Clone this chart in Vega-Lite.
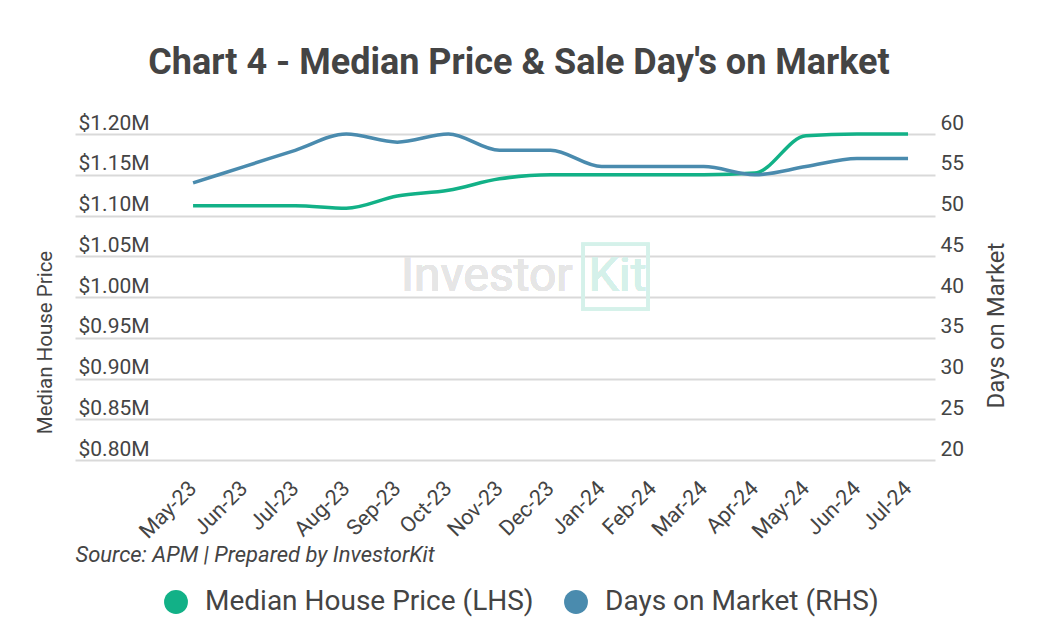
{
  "$schema": "https://vega.github.io/schema/vega-lite/v6.json",
  "width": 860,
  "height": 326,
  "autosize": {"type": "none"},
  "padding": {"left": 75, "top": 134, "right": 105, "bottom": 180},
  "background": "white",
  "config": {
    "font": "Roboto",
    "view": {"stroke": null},
    "axis": {"labelFont": "Roboto", "titleFont": "Roboto", "labelColor": "#444444", "titleColor": "#444444", "titleFontWeight": "normal"}
  },
  "title": {
    "text": "Chart 4 - Median Price & Sale Day's on Market",
    "font": "Roboto",
    "fontSize": 36,
    "fontWeight": "bold",
    "color": "#444444",
    "anchor": "middle",
    "dx": 14,
    "offset": 30
  },
  "data": {
    "values": [
      {"month": "May-23", "price": 1112000, "days": 54},
      {"month": "Jun-23", "price": 1112000, "days": 56},
      {"month": "Jul-23", "price": 1112000, "days": 58},
      {"month": "Aug-23", "price": 1109000, "days": 60},
      {"month": "Sep-23", "price": 1124000, "days": 59},
      {"month": "Oct-23", "price": 1131000, "days": 60},
      {"month": "Nov-23", "price": 1145000, "days": 58},
      {"month": "Dec-23", "price": 1150000, "days": 58},
      {"month": "Jan-24", "price": 1150000, "days": 56},
      {"month": "Feb-24", "price": 1150000, "days": 56},
      {"month": "Mar-24", "price": 1150000, "days": 56},
      {"month": "Apr-24", "price": 1152000, "days": 55},
      {"month": "May-24", "price": 1198000, "days": 56},
      {"month": "Jun-24", "price": 1200000, "days": 57},
      {"month": "Jul-24", "price": 1200000, "days": 57}
    ]
  },
  "encoding": {
    "x": {
      "field": "month",
      "type": "ordinal",
      "sort": null,
      "scale": {
        "type": "point",
        "domain": [" ", "May-23", "Jun-23", "Jul-23", "Aug-23", "Sep-23", "Oct-23", "Nov-23", "Dec-23", "Jan-24", "Feb-24", "Mar-24", "Apr-24", "May-24", "Jun-24", "Jul-24"],
        "padding": 0.92,
        "align": 0.713
      },
      "axis": {
        "title": "Source: APM | Prepared by InvestorKit",
        "titleAnchor": "start",
        "titleAlign": "left",
        "titleFontStyle": "italic",
        "titleFontSize": 22,
        "titlePadding": 2,
        "labelAngle": -45,
        "labelAlign": "right",
        "labelBaseline": "middle",
        "labelFontSize": 21.5,
        "labelPadding": 25,
        "labelOverlap": false,
        "domain": false,
        "ticks": false,
        "grid": false
      }
    }
  },
  "layer": [
    {
      "layer": [
        {
          "mark": {"type": "line", "interpolate": "monotone", "strokeWidth": 3.5},
          "encoding": {
            "y": {
              "field": "price",
              "type": "quantitative",
              "scale": {"domain": [800000, 1200000], "nice": false, "zero": false},
              "axis": {
                "title": "Median House Price",
                "titleFontSize": 20.5,
                "titleAngle": -90,
                "titlePadding": 20,
                "titleY": 208,
                "values": [800000, 850000, 900000, 950000, 1000000, 1050000, 1100000, 1150000, 1200000],
                "labelExpr": "'$' + format(datum.value / 1000000, '.2f') + 'M'",
                "labelAlign": "left",
                "labelBaseline": "alphabetic",
                "labelOffset": -5,
                "labelPadding": -3,
                "labelFontSize": 21,
                "ticks": false,
                "domain": false,
                "grid": true,
                "gridColor": "#d9d9d9",
                "gridWidth": 2
              }
            },
            "color": {
              "datum": "Median House Price (LHS)",
              "type": "nominal",
              "scale": {"domain": ["Median House Price (LHS)", "Days on Market (RHS)"], "range": ["#12b187", "#4a8bae"]},
              "legend": {
                "title": null,
                "orient": "none",
                "legendX": 87,
                "legendY": 454,
                "direction": "horizontal",
                "symbolType": "circle",
                "symbolSize": 570,
                "labelFontSize": 28,
                "labelFont": "Roboto",
                "labelColor": "#444444",
                "labelLimit": 0,
                "labelOffset": 15,
                "columnPadding": 28,
                "encode": {"symbols": {"update": {"fill": {"scale": "color", "field": "value"}, "strokeWidth": {"value": 0}, "opacity": {"value": 1}}}}
              }
            }
          }
        },
        {
          "mark": {"type": "text", "text": "Investor", "fontSize": 48, "color": "#e6e6e6", "align": "right", "baseline": "middle", "dx": 22},
          "encoding": {
            "x": {"datum": "Dec-23"},
            "y": {"datum": 1025000, "type": "quantitative"}
          }
        },
        {
          "mark": {"type": "point", "shape": "square", "size": 4200, "filled": false, "stroke": "#d5f1ea", "strokeWidth": 3, "opacity": 1, "xOffset": 14},
          "encoding": {
            "x": {"datum": "Jan-24"},
            "y": {"datum": 1025000, "type": "quantitative"}
          }
        },
        {
          "mark": {"type": "text", "text": "Kit", "fontSize": 48, "color": "#d5f1ea", "align": "center", "baseline": "middle", "dx": 16},
          "encoding": {
            "x": {"datum": "Jan-24"},
            "y": {"datum": 1025000, "type": "quantitative"}
          }
        }
      ]
    },
    {
      "mark": {"type": "line", "interpolate": "monotone", "strokeWidth": 3.5},
      "encoding": {
        "y": {
          "field": "days",
          "type": "quantitative",
          "scale": {"domain": [20, 60], "nice": false, "zero": false},
          "axis": {
            "orient": "right",
            "title": "Days on Market",
            "titleFontSize": 24,
            "titleAngle": -90,
            "titleBaseline": "top",
            "titlePadding": 21,
            "titleY": 191,
            "values": [20, 25, 30, 35, 40, 45, 50, 55, 60],
            "labelAlign": "left",
            "labelBaseline": "alphabetic",
            "labelOffset": -5,
            "labelPadding": 5,
            "labelFontSize": 21,
            "ticks": false,
            "domain": false,
            "grid": false
          }
        },
        "color": {"datum": "Days on Market (RHS)", "type": "nominal"}
      }
    }
  ],
  "resolve": {"scale": {"y": "independent"}}
}
